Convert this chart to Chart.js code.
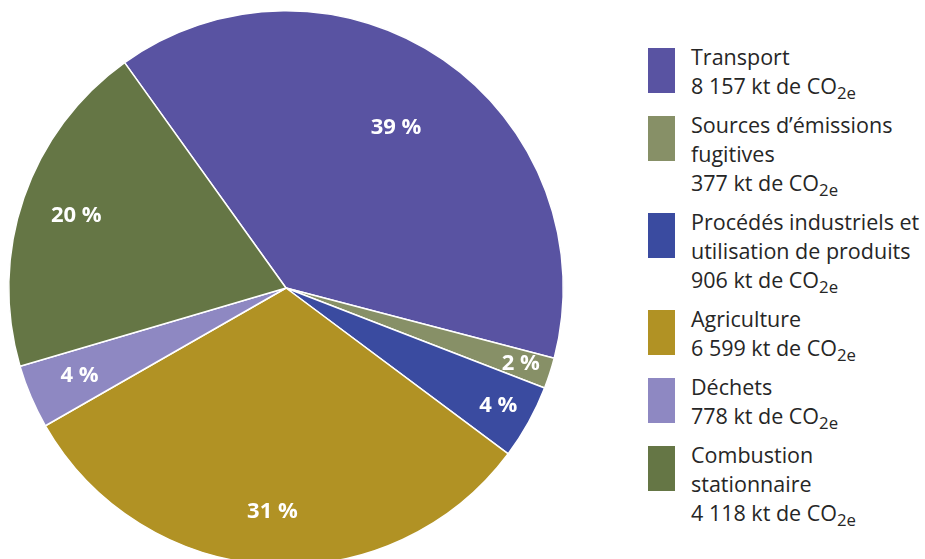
<!DOCTYPE html>
<html lang="fr">
<head>
<meta charset="utf-8">
<script src="https://cdn.jsdelivr.net/npm/chart.js@4.4.1/dist/chart.umd.min.js"></script>
<style>
  html, body { margin: 0; padding: 0; background: #fff; overflow: hidden; }
  body { width: 925px; height: 559px; position: relative; }
  #wrap { position: absolute; left: 0; top: 2px; width: 572px; height: 572px; }
  #legend { position: absolute; left: 648px; top: 42px; font-family: 'Open Sans', sans-serif; font-size: 21.5px; color: #262626; }
  .item { display: flex; margin-bottom: 10px; }
  .sw { width: 27px; height: 45px; margin-top: 6px; margin-right: 16px; flex: none; }
  .txt { line-height: 29px; white-space: nowrap; }
  .txt sub { font-size: 0.78em; vertical-align: -5px; line-height: 0; }
</style>
</head>
<body>
<div id="wrap"><canvas id="pie"></canvas></div>
<div id="legend"></div>
<script>
// émissions par secteur (kt de CO2e)
const categories = [
    ['Transport'],
    ['Sources d\u2019émissions', 'fugitives'],
    ['Procédés industriels et', 'utilisation de produits'],
    ['Agriculture'],
    ['Déchets'],
    ['Combustion', 'stationnaire']
];
const emissions = [8157, 377, 906, 6599, 778, 4118];
const pctLabels = ['39 %', '2 %', '4 %', '31 %', '4 %', '20 %'];

const colors = ['#5953a2', '#879067', '#3a4ba0', '#b19224', '#8e88c2', '#657645'];
// distance of the % label from the centre, as a share of the radius
const labelRadius = [0.70, 0.89, 0.875, 0.81, 0.81, 0.80];

function fmt(n) {
    return String(n).replace(/\B(?=(\d{3})+(?!\d))/g, ' ');
}

// legend
const legend = document.getElementById('legend');
categories.forEach(function(lines, i) {
    const item = document.createElement('div');
    item.className = 'item';
    item.innerHTML = '<div class="sw" style="background:' + colors[i] + '"></div>' +
        '<div class="txt">' + lines.join('<br>') + '<br>' + fmt(emissions[i]) +
        ' kt de CO<sub>2e</sub></div>';
    legend.appendChild(item);
});

const pctPlugin = {
    id: 'pctLabels',
    afterDatasetsDraw(chart) {
        const ctx = chart.ctx;
        const meta = chart.getDatasetMeta(0);
        ctx.save();
        ctx.fillStyle = '#ffffff';
        ctx.font = 'bold 22px "Open Sans"';
        ctx.textAlign = 'center';
        ctx.textBaseline = 'middle';
        meta.data.forEach(function(arc, i) {
            const mid = (arc.startAngle + arc.endAngle) / 2;
            const r = arc.outerRadius * labelRadius[i];
            ctx.fillText(pctLabels[i], arc.x + Math.cos(mid) * r, arc.y + Math.sin(mid) * r);
        });
        ctx.restore();
    }
};

const ctx = document.getElementById('pie').getContext('2d');
new Chart(ctx, {
    type: 'pie',
    data: {
        labels: categories.map(l => l.join(' ')),
        datasets: [{
            data: emissions,
            backgroundColor: colors,
            borderColor: '#ffffff',
            borderWidth: 1.5
        }]
    },
    options: {
        responsive: true,
        maintainAspectRatio: false,
        animation: false,
        rotation: -35.6,
        layout: { padding: 8 },
        plugins: {
            legend: { display: false },
            tooltip: { enabled: false }
        }
    },
    plugins: [pctPlugin]
});
</script>
</body>
</html>
